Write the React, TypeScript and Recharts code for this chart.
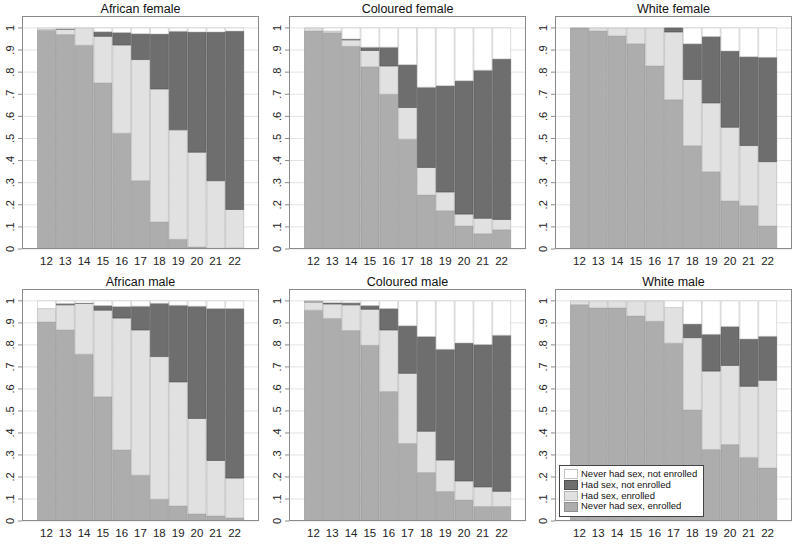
import React from 'react';
import { BarChart, Bar, XAxis, YAxis, CartesianGrid, Legend } from 'recharts';

const FONT = '"Liberation Sans", Arial, Helvetica, sans-serif';

const ages = ['12', '13', '14', '15', '16', '17', '18', '19', '20', '21', '22'];
const yTicks = [0, 0.1, 0.2, 0.3, 0.4, 0.5, 0.6, 0.7, 0.8, 0.9, 1];
const yTickLabels = ['0', '.1', '.2', '.3', '.4', '.5', '.6', '.7', '.8', '.9', '1'];

// shares per age: never had sex & enrolled, had sex & enrolled, had sex & not enrolled, never had sex & not enrolled
const africanFemaleNeverEnrolled = [0.99, 0.97, 0.922, 0.751, 0.524, 0.309, 0.122, 0.044, 0.009, 0.003, 0.005];
const africanFemaleSexEnrolled = [0.005, 0.024, 0.078, 0.211, 0.399, 0.548, 0.602, 0.495, 0.429, 0.306, 0.174];
const africanFemaleSexNotEnrolled = [0, 0.002, 0, 0.021, 0.056, 0.117, 0.249, 0.446, 0.544, 0.673, 0.807];
const africanFemaleNeverNotEnrolled = [0.005, 0.004, 0, 0.017, 0.021, 0.026, 0.027, 0.015, 0.018, 0.018, 0.014];

const colouredFemaleNeverEnrolled = [0.986, 0.978, 0.917, 0.824, 0.7, 0.497, 0.244, 0.173, 0.104, 0.069, 0.087];
const colouredFemaleSexEnrolled = [0.014, 0.008, 0.029, 0.074, 0.128, 0.143, 0.125, 0.085, 0.054, 0.07, 0.047];
const colouredFemaleSexNotEnrolled = [0, 0, 0.004, 0.015, 0.085, 0.194, 0.363, 0.481, 0.603, 0.67, 0.726];
const colouredFemaleNeverNotEnrolled = [0, 0.014, 0.05, 0.087, 0.087, 0.166, 0.268, 0.261, 0.239, 0.191, 0.14];

const whiteFemaleNeverEnrolled = [1, 0.986, 0.964, 0.928, 0.828, 0.675, 0.467, 0.349, 0.217, 0.196, 0.104];
const whiteFemaleSexEnrolled = [0, 0.014, 0.036, 0.072, 0.172, 0.307, 0.3, 0.312, 0.334, 0.272, 0.291];
const whiteFemaleSexNotEnrolled = [0, 0, 0, 0, 0, 0.018, 0.161, 0.3, 0.345, 0.402, 0.472];
const whiteFemaleNeverNotEnrolled = [0, 0, 0, 0, 0, 0, 0.072, 0.039, 0.104, 0.13, 0.133];

const africanMaleNeverEnrolled = [0.904, 0.868, 0.758, 0.564, 0.323, 0.208, 0.099, 0.068, 0.032, 0.023, 0.014];
const africanMaleSexEnrolled = [0.061, 0.114, 0.23, 0.394, 0.599, 0.66, 0.648, 0.564, 0.434, 0.252, 0.181];
const africanMaleSexNotEnrolled = [0, 0.006, 0.002, 0.021, 0.052, 0.108, 0.242, 0.348, 0.51, 0.69, 0.77];
const africanMaleNeverNotEnrolled = [0.035, 0.012, 0.01, 0.021, 0.026, 0.024, 0.011, 0.02, 0.024, 0.035, 0.035];

const colouredMaleNeverEnrolled = [0.958, 0.92, 0.865, 0.798, 0.588, 0.352, 0.22, 0.134, 0.095, 0.066, 0.066];
const colouredMaleSexEnrolled = [0.037, 0.066, 0.117, 0.164, 0.28, 0.319, 0.188, 0.143, 0.087, 0.089, 0.069];
const colouredMaleSexNotEnrolled = [0.003, 0.006, 0.009, 0.017, 0.097, 0.216, 0.43, 0.503, 0.627, 0.647, 0.709];
const colouredMaleNeverNotEnrolled = [0.002, 0.008, 0.009, 0.021, 0.035, 0.113, 0.162, 0.22, 0.191, 0.198, 0.156];

const whiteMaleNeverEnrolled = [0.983, 0.968, 0.968, 0.931, 0.907, 0.808, 0.504, 0.325, 0.347, 0.289, 0.241];
const whiteMaleSexEnrolled = [0.017, 0.032, 0.032, 0.069, 0.093, 0.162, 0.329, 0.356, 0.36, 0.323, 0.398];
const whiteMaleSexNotEnrolled = [0, 0, 0, 0, 0, 0, 0.062, 0.167, 0.177, 0.215, 0.2];
const whiteMaleNeverNotEnrolled = [0, 0, 0, 0, 0, 0.03, 0.105, 0.152, 0.116, 0.173, 0.161];

const series = [
  { key: 'neverEnrolled', name: 'Never had sex, enrolled', fill: '#adadad', stroke: '#8e8e8e' },
  { key: 'sexEnrolled', name: 'Had sex, enrolled', fill: '#e1e1e1', stroke: '#b4b4b4' },
  { key: 'sexNotEnrolled', name: 'Had sex, not enrolled', fill: '#6e6e6e', stroke: '#505050' },
  { key: 'neverNotEnrolled', name: 'Never had sex, not enrolled', fill: '#ffffff', stroke: '#c4c4c4' },
];

const buildRows = (a: number[], b: number[], c: number[], d: number[]) =>
  ages.map((age, i) => ({
    age,
    neverEnrolled: a[i],
    sexEnrolled: b[i],
    sexNotEnrolled: c[i],
    neverNotEnrolled: d[i],
  }));

const panels = [
  { title: 'African female', col: 0, row: 0, data: buildRows(africanFemaleNeverEnrolled, africanFemaleSexEnrolled, africanFemaleSexNotEnrolled, africanFemaleNeverNotEnrolled) },
  { title: 'Coloured female', col: 1, row: 0, data: buildRows(colouredFemaleNeverEnrolled, colouredFemaleSexEnrolled, colouredFemaleSexNotEnrolled, colouredFemaleNeverNotEnrolled) },
  { title: 'White female', col: 2, row: 0, data: buildRows(whiteFemaleNeverEnrolled, whiteFemaleSexEnrolled, whiteFemaleSexNotEnrolled, whiteFemaleNeverNotEnrolled) },
  { title: 'African male', col: 0, row: 1, data: buildRows(africanMaleNeverEnrolled, africanMaleSexEnrolled, africanMaleSexNotEnrolled, africanMaleNeverNotEnrolled) },
  { title: 'Coloured male', col: 1, row: 1, data: buildRows(colouredMaleNeverEnrolled, colouredMaleSexEnrolled, colouredMaleSexNotEnrolled, colouredMaleNeverNotEnrolled) },
  { title: 'White male', col: 2, row: 1, data: buildRows(whiteMaleNeverEnrolled, whiteMaleSexEnrolled, whiteMaleSexNotEnrolled, whiteMaleNeverNotEnrolled), legend: true },
];

const FRAME_LEFT = [22, 289, 555];
const FRAME_TOP = [16, 289];
const FRAME_H = [233, 232];
const FRAME_W = 237;
const AXIS_W = 22;
const X_AXIS_H = 24;

const YTick = (props: any) => {
  const { x, y, payload } = props;
  const i = yTicks.indexOf(payload.value);
  return (
    <text
      x={x}
      y={y}
      transform={`rotate(-90 ${x} ${y})`}
      textAnchor="middle"
      fontSize={11}
      fill="#222"
      fontFamily={FONT}
    >
      {yTickLabels[i]}
    </text>
  );
};

const LegendBox = () => (
  <div
    style={{
      border: '1px solid #444',
      background: '#fff',
      padding: '3px 6px 4px 4px',
      fontFamily: FONT,
      fontSize: 9.5,
      color: '#111',
      lineHeight: '10.75px',
    }}
  >
    {[...series].reverse().map((s) => (
      <div key={s.key} style={{ display: 'flex', alignItems: 'center', height: 10.75, whiteSpace: 'nowrap' }}>
        <span
          style={{
            display: 'inline-block',
            width: 14,
            height: 10,
            background: s.fill,
            border: `1px solid ${s.stroke}`,
            boxSizing: 'border-box',
            marginRight: 3,
          }}
        />
        <span>{s.name}</span>
      </div>
    ))}
  </div>
);

const Panel = ({ p }: { p: (typeof panels)[number] }) => {
  const left = FRAME_LEFT[p.col];
  const top = FRAME_TOP[p.row];
  const h = FRAME_H[p.row];
  const chartLeft = left - AXIS_W;
  return (
    <>
      <div
        style={{
          position: 'absolute',
          left,
          top: top - 13,
          width: FRAME_W,
          height: 13,
          lineHeight: '13px',
          textAlign: 'center',
          fontFamily: FONT,
          fontSize: 12.5,
          color: '#111',
        }}
      >
        {p.title}
      </div>
      <div style={{ position: 'absolute', left: chartLeft, top }}>
        <BarChart
          width={AXIS_W + FRAME_W}
          height={h + X_AXIS_H}
          data={p.data}
          margin={{ top: 0, right: 0, bottom: 0, left: 0 }}
          barCategoryGap={0.5}
        >
          <CartesianGrid vertical={false} stroke="#e3e3e3" />
          <XAxis
            dataKey="age"
            height={X_AXIS_H}
            interval={0}
            padding={{ left: 15, right: 15 }}
            tickLine={false}
            axisLine={false}
            tick={{ fontSize: 11.5, fill: '#222', fontFamily: FONT }}
          />
          <YAxis
            width={AXIS_W}
            domain={[0, 1.054]}
            allowDataOverflow
            ticks={yTicks}
            interval={0}
            tickSize={4}
            tickMargin={4}
            axisLine={false}
            tickLine={{ stroke: '#8a8a8a' }}
            tick={<YTick />}
          />
          {series.map((s) => (
            <Bar
              key={s.key}
              dataKey={s.key}
              name={s.name}
              stackId="a"
              fill={s.fill}
              stroke={s.stroke}
              strokeWidth={0.6}
              isAnimationActive={false}
            />
          ))}
          {p.legend && (
            <Legend
              layout="vertical"
              align="center"
              verticalAlign="middle"
              wrapperStyle={{ left: 559 - chartLeft, top: 465 - top, width: 'auto', height: 'auto' }}
              content={() => <LegendBox />}
            />
          )}
        </BarChart>
      </div>
      <div
        style={{
          position: 'absolute',
          left,
          top,
          width: FRAME_W,
          height: h,
          border: '1px solid #8a8a8a',
          boxSizing: 'border-box',
          pointerEvents: 'none',
        }}
      />
    </>
  );
};

const App: React.FC = () => {
  return (
    <div style={{ position: 'absolute', left: 0, top: 0, width: 800, height: 545, background: '#fff' }}>
      {panels.map((p) => (
        <Panel key={p.title} p={p} />
      ))}
    </div>
  );
};

export default App;
